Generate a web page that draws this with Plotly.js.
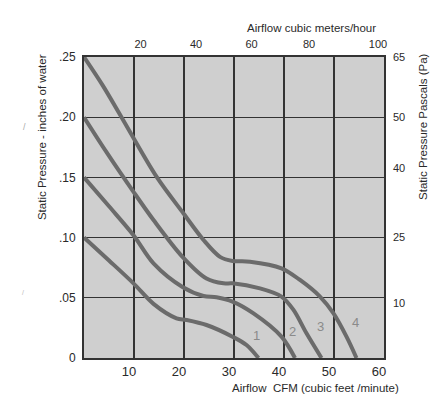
<!DOCTYPE html>
<html>
<head>
<meta charset="utf-8">
<script src="https://cdn.plot.ly/plotly-3.0.1.min.js"></script>
<style>
html,body{margin:0;padding:0;background:#fff;}
#chart{width:438px;height:406px;}
</style>
</head>
<body>
<div id="chart"></div>
<script>
// Fan curves: airflow (CFM) vs static pressure (inches of water)
const curveNames = ['1', '2', '3', '4'];
const cfm1 = [0, 5, 9.9, 13.9, 18.5, 20.5, 24.5, 29.7, 32.5, 34.9];
const sp1  = [0.100, 0.081, 0.062, 0.045, 0.033, 0.0316, 0.0274, 0.0177, 0.0108, 0];
const cfm2 = [0, 5, 9.9, 13.9, 19.7, 23.9, 26.5, 29.7, 33.9, 39.5, 42.2];
const sp2  = [0.150, 0.126, 0.102, 0.0786, 0.059, 0.0515, 0.0504, 0.0468, 0.037, 0.0177, 0];
const cfm3 = [0, 4.5, 9.9, 13.9, 19.7, 24.5, 27.9, 29.7, 35.2, 39.5, 41.9, 44.5, 47.5];
const sp3  = [0.200, 0.171, 0.138, 0.1146, 0.084, 0.066, 0.062, 0.062, 0.0578, 0.051, 0.0399, 0.0205, 0];
const cfm4 = [0, 3.8, 7.5, 14.5, 19.9, 23.9, 27.2, 29.7, 33.2, 39.5, 43.2, 47.2, 49.9, 52.5, 54.5];
const sp4  = [0.250, 0.226, 0.200, 0.1506, 0.120, 0.098, 0.084, 0.0806, 0.080, 0.0745, 0.0648, 0.051, 0.037, 0.0177, 0];
// curve number label positions (CFM, inches)
const labelCfm = [34.4, 41.7, 47.2, 54.2];
const labelSp  = [0.0191, 0.0219, 0.026, 0.0291];

// Axis tick labels
const cfmTicks = [10, 20, 30, 40, 50, 60];
const cfmTickText = ['10', '20', '30', '40', '50', '60'];
const m3hTickText = ['20', '40', '60', '80', '100'];
const m3hTickPos = [11.3, 22.4, 33.5, 45.0, 58.8];   // in CFM coordinates, as drawn
const inchTicks = [0, 0.05, 0.10, 0.15, 0.20, 0.25];
const inchTickText = ['0', '.05', '.10', '.15', '.20', '.25'];
const paTickText = ['65', '50', '40', '25', '10'];
const paTickPos = [0.25, 0.20, 0.158, 0.1005, 0.0457]; // in inch coordinates, as drawn

const xs = [cfm1, cfm2, cfm3, cfm4];
const ys = [sp1, sp2, sp3, sp4];

const lineColor = '#6b6b6b';
const traces = xs.map((x, i) => ({
  x: x, y: ys[i], type: 'scatter', mode: 'lines', name: curveNames[i],
  line: {color: lineColor, width: 4, shape: 'spline', smoothing: 0.9},
  hoverinfo: 'skip', showlegend: false
}));
// dummy traces to activate secondary axes
traces.push({x: [0], y: [0], xaxis: 'x2', yaxis: 'y', mode: 'markers', marker: {opacity: 0}, showlegend: false, hoverinfo: 'skip'});
traces.push({x: [0], y: [0], xaxis: 'x', yaxis: 'y2', mode: 'markers', marker: {opacity: 0}, showlegend: false, hoverinfo: 'skip'});

const txt = '#2a2a2a';
const fontFam = 'Liberation Sans, Arial, sans-serif';

const annotations = curveNames.map((n, i) => ({
  x: labelCfm[i], y: labelSp[i], xref: 'x', yref: 'y', text: n, showarrow: false,
  font: {family: fontFam, size: 13, color: '#8a8a8a'}
}));
function pAnn(x, y, text, size, color, angle) {
  return {xref: 'paper', yref: 'paper', x: x, y: y, text: text, showarrow: false,
          xanchor: 'center', yanchor: 'middle', textangle: angle || 0,
          font: {family: fontFam, size: size, color: color}};
}
annotations.push(
  pAnn(0.757, 1.097, 'Airflow cubic meters/hour', 11.5, txt),
  pAnn(0.77, -0.0997, 'Airflow  CFM (cubic feet /minute)', 11.5, txt),
  pAnn(-0.14, 0.734, 'Static Pressure - inches of water', 11.5, txt, -90),
  pAnn(1.13, 0.771, 'Static Pressure Pascals (Pa)', 11.5, txt, -90),
  pAnn(-0.197, 0.767, '/', 9, '#aaaaaa'),
  pAnn(-0.203, 0.216, '/', 7, '#bbbbbb')
);

const layout = {
  width: 438, height: 406,
  margin: {l: 84, r: 54, t: 57, b: 48, pad: 0},
  paper_bgcolor: '#ffffff',
  plot_bgcolor: '#cfcfcf',
  showlegend: false,
  xaxis: {
    range: [0, 60], tickvals: cfmTicks, ticktext: cfmTickText, ticks: '',
    showgrid: true, gridcolor: '#333333', gridwidth: 1.2, zeroline: false,
    showline: true, linecolor: '#333333', linewidth: 2, mirror: true,
    ticklabelshift: -5, ticklabelstandoff: 0,
    tickfont: {family: fontFam, size: 13, color: txt}
  },
  xaxis2: {
    overlaying: 'x', side: 'top', range: [0, 60], tickvals: m3hTickPos, ticktext: m3hTickText,
    ticks: '', showgrid: false, zeroline: false, showline: false, ticklabelstandoff: 6,
    tickfont: {family: fontFam, size: 11, color: txt}
  },
  yaxis: {
    range: [0, 0.25], tickvals: inchTicks, ticktext: inchTickText, ticks: '',
    showgrid: true, gridcolor: '#333333', gridwidth: 1.2, zeroline: false,
    showline: true, linecolor: '#333333', linewidth: 2, mirror: true,
    ticklabelstandoff: 4,
    tickfont: {family: fontFam, size: 12, color: txt}
  },
  yaxis2: {
    overlaying: 'y', side: 'right', range: [0, 0.25], tickvals: paTickPos, ticktext: paTickText,
    ticks: '', showgrid: false, zeroline: false, showline: false, ticklabelstandoff: 8,
    tickfont: {family: fontFam, size: 11, color: txt}
  },
  annotations: annotations
};

Plotly.newPlot('chart', traces, layout, {staticPlot: true, displayModeBar: false});
</script>
</body>
</html>
